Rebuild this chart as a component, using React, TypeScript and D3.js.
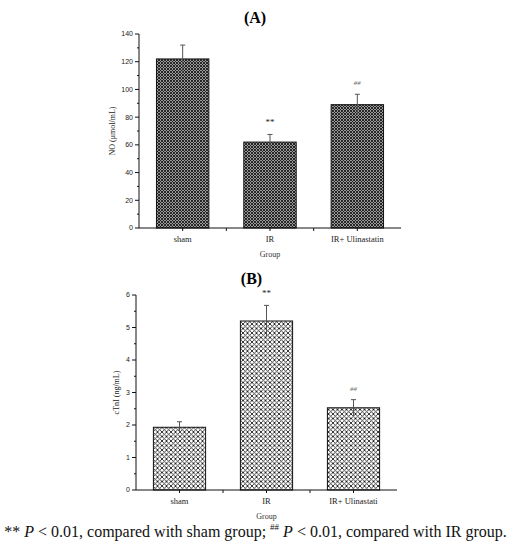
import React, { useEffect, useRef } from 'react'
import * as d3 from 'd3'

// Panel A: NO (µmol/mL)
const groupsA = ['sham', 'IR', 'IR+ Ulinastatin']
const meansA = [122, 62, 89]
const errorsA = [10, 5.5, 7.5]
const marksA = ['', '**', '##']
const ticksA = [0, 20, 40, 60, 80, 100, 120, 140]

// Panel B: cTnI (ng/mL)
const groupsB = ['sham', 'IR', 'IR+ Ulinastati']
const meansB = [1.93, 5.2, 2.53]
const errorsB = [0.17, 0.48, 0.25]
const marksB = ['', '**', '##']
const ticksB = [0, 1, 2, 3, 4, 5, 6]

const SERIF = '"Liberation Serif", "DejaVu Serif", serif'
const SANS = '"Liberation Sans", Arial, sans-serif'

interface PanelSpec {
  title: string
  groups: string[]
  means: number[]
  errors: number[]
  marks: string[]
  ticks: number[]
  yLabel: string
  left: number
  right: number
  top: number
  bottom: number
  patternId: string
  yLabelX: number
}

const App: React.FC = () => {
  const svgRef = useRef<SVGSVGElement>(null)

  useEffect(() => {
    if (!svgRef.current) return
    const svg = d3.select(svgRef.current)
    svg.selectAll('*').remove()

    const defs = svg.append('defs')

    // dense dark crosshatch for panel A
    const pA = defs
      .append('pattern')
      .attr('id', 'hatchA')
      .attr('patternUnits', 'userSpaceOnUse')
      .attr('width', 3)
      .attr('height', 3)
    pA.append('rect').attr('width', 3).attr('height', 3).attr('fill', '#9a9a9a')
    pA.append('path').attr('d', 'M0,0 L3,3 M3,0 L0,3').attr('stroke', '#1a1a1a').attr('stroke-width', 0.9)

    // lighter, more open crosshatch for panel B
    const pB = defs
      .append('pattern')
      .attr('id', 'hatchB')
      .attr('patternUnits', 'userSpaceOnUse')
      .attr('width', 4.5)
      .attr('height', 4.5)
    pB.append('rect').attr('width', 4.5).attr('height', 4.5).attr('fill', '#fff')
    pB.append('path')
      .attr('d', 'M0,0 L4.5,4.5 M4.5,0 L0,4.5')
      .attr('stroke', '#222')
      .attr('stroke-width', 0.9)

    const panels: PanelSpec[] = [
      {
        title: 'A',
        groups: groupsA,
        means: meansA,
        errors: errorsA,
        marks: marksA,
        ticks: ticksA,
        yLabel: 'NO (μmol/mL)',
        left: 139,
        right: 401,
        top: 34,
        bottom: 228,
        patternId: 'hatchA',
        yLabelX: 112,
      },
      {
        title: 'B',
        groups: groupsB,
        means: meansB,
        errors: errorsB,
        marks: marksB,
        ticks: ticksB,
        yLabel: 'cTnI (ng/mL)',
        left: 136,
        right: 397,
        top: 295,
        bottom: 490,
        patternId: 'hatchB',
        yLabelX: 116,
      },
    ]

    panels.forEach(p => {
      const g = svg.append('g')
      const x = d3
        .scaleBand<string>()
        .domain(p.groups)
        .range([p.left, p.right])
        .paddingInner(0.4)
        .paddingOuter(0.2)
      const yMax = p.ticks[p.ticks.length - 1]
      const y = d3.scaleLinear().domain([0, yMax]).range([p.bottom, p.top])

      // title
      g.append('text')
        .attr('x', (p.left + p.right) / 2 - 15)
        .attr('y', p.top - 11)
        .attr('text-anchor', 'middle')
        .style('font-family', SERIF)
        .style('font-size', '16px')
        .style('font-weight', 'bold')
        .text(`(${p.title})`)

      // bars
      p.groups.forEach((grp, i) => {
        const bx = x(grp) ?? 0
        g.append('rect')
          .attr('x', bx)
          .attr('y', y(p.means[i]))
          .attr('width', x.bandwidth())
          .attr('height', y(0) - y(p.means[i]))
          .attr('fill', `url(#${p.patternId})`)
          .attr('stroke', '#111')
          .attr('stroke-width', 1)

        // error bar (upper cap only)
        const cx = bx + x.bandwidth() / 2
        const top = y(p.means[i] + p.errors[i])
        g.append('line')
          .attr('x1', cx)
          .attr('x2', cx)
          .attr('y1', y(p.means[i] - p.errors[i]))
          .attr('y2', top)
          .attr('stroke', '#555')
          .attr('stroke-width', 1)
        g.append('line')
          .attr('x1', cx - 2.5)
          .attr('x2', cx + 2.5)
          .attr('y1', top)
          .attr('y2', top)
          .attr('stroke', '#555')
          .attr('stroke-width', 1)

        if (p.marks[i]) {
          g.append('text')
            .attr('x', cx)
            .attr('y', top - 9)
            .attr('text-anchor', 'middle')
            .style('font-family', SERIF)
            .style('font-size', p.marks[i] === '##' ? '7px' : '9px')
            .style('font-style', p.marks[i] === '##' ? 'italic' : 'normal')
            .style('fill', p.marks[i] === '##' ? '#666' : '#222')
            .text(p.marks[i])
        }
      })

      // y axis with minor ticks
      const yAxis = g.append('g').attr('transform', `translate(${p.left},0)`)
      yAxis
        .append('line')
        .attr('x1', 0)
        .attr('x2', 0)
        .attr('y1', p.top)
        .attr('y2', p.bottom)
        .attr('stroke', '#111')
      const step = p.ticks[1] - p.ticks[0]
      p.ticks.forEach((t, i) => {
        yAxis
          .append('line')
          .attr('x1', -4)
          .attr('x2', 0)
          .attr('y1', y(t))
          .attr('y2', y(t))
          .attr('stroke', '#111')
        yAxis
          .append('text')
          .attr('x', -6)
          .attr('y', y(t))
          .attr('dy', '0.35em')
          .attr('text-anchor', 'end')
          .style('font-family', SANS)
          .style('font-size', '7px')
          .style('fill', '#222')
          .text(t)
        if (i < p.ticks.length - 1) {
          yAxis
            .append('line')
            .attr('x1', -2)
            .attr('x2', 0)
            .attr('y1', y(t + step / 2))
            .attr('y2', y(t + step / 2))
            .attr('stroke', '#111')
        }
      })

      // x axis
      const xAxis = g.append('g')
      xAxis
        .append('line')
        .attr('x1', p.left)
        .attr('x2', p.right)
        .attr('y1', p.bottom)
        .attr('y2', p.bottom)
        .attr('stroke', '#111')
      p.groups.forEach((grp, i) => {
        const cx = (x(grp) ?? 0) + x.bandwidth() / 2
        xAxis
          .append('line')
          .attr('x1', cx)
          .attr('x2', cx)
          .attr('y1', p.bottom)
          .attr('y2', p.bottom + 3)
          .attr('stroke', '#111')
        if (i > 0) {
          const bx = (x(grp) ?? 0) - (x.step() - x.bandwidth()) / 2
          xAxis
            .append('line')
            .attr('x1', bx)
            .attr('x2', bx)
            .attr('y1', p.bottom)
            .attr('y2', p.bottom + 3)
            .attr('stroke', '#111')
        }
        xAxis
          .append('text')
          .attr('x', cx)
          .attr('y', p.bottom + 14)
          .attr('text-anchor', 'middle')
          .style('font-family', SERIF)
          .style('font-size', '8.5px')
          .style('fill', '#222')
          .text(grp)
      })

      g.append('text')
        .attr('x', (p.left + p.right) / 2)
        .attr('y', p.bottom + 29)
        .attr('text-anchor', 'middle')
        .style('font-family', SERIF)
        .style('font-size', '8px')
        .style('fill', '#333')
        .text('Group')

      g.append('text')
        .attr('transform', `translate(${p.yLabelX},${(p.top + p.bottom) / 2}) rotate(-90)`)
        .attr('dy', '0.35em')
        .attr('text-anchor', 'middle')
        .style('font-family', SERIF)
        .style('font-size', '8px')
        .style('fill', '#222')
        .text(p.yLabel)
    })

    // footnote
    const note = svg
      .append('text')
      .attr('x', 255.5)
      .attr('y', 537)
      .attr('text-anchor', 'middle')
      .style('font-family', SERIF)
      .style('font-size', '16px')
      .style('fill', '#111')
    note.append('tspan').text('** ')
    note.append('tspan').style('font-style', 'italic').text('P')
    note.append('tspan').text(' < 0.01, compared with sham group; ')
    note.append('tspan').style('font-size', '9px').attr('dy', -7).text('##')
    note.append('tspan').attr('dy', 7).text(' ')
    note.append('tspan').style('font-style', 'italic').text('P')
    note.append('tspan').text(' < 0.01, compared with IR group.')
  }, [])

  return (
    <svg
      ref={svgRef}
      width={511}
      height={550}
      style={{ position: 'absolute', left: 0, top: 0, background: '#fff' }}
    />
  )
}

export default App
